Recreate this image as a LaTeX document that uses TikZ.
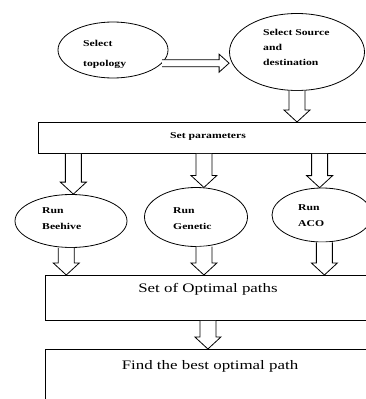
\documentclass[tikz,border=0pt]{standalone}
\usepackage{fontspec}
\usepackage{graphicx}
\setmainfont{Liberation Serif}
\usetikzlibrary{shapes.geometric,calc}
\newcommand\lbl[2]{\scalebox{1.3}[1]{\fontsize{9}{#1}\selectfont\bfseries\begin{tabular}{@{}l@{}}#2\end{tabular}}}
\newcommand\bigtxt[1]{\scalebox{1.3}[1]{\fontsize{13}{15}\selectfont #1}}
\tikzset{
  ell/.style={draw=black, line width=0.8pt, ellipse, inner sep=0pt},
  box/.style={draw=black, line width=0.8pt, rectangle, inner sep=0pt},
  harrow/.style={draw=black, line width=0.8pt, fill=white, line join=miter},
  txt/.style={inner sep=0pt}
}
\newcommand\bdown[2]{\draw[harrow] let \p1=(#1), \p2=(#2) in (\x1-8pt,\y1) -- (\x1-8pt,\y2+12pt) -- (\x1-13pt,\y2+12pt) -- (\x1,\y2) -- (\x1+13pt,\y2+12pt) -- (\x1+8pt,\y2+12pt) -- (\x1+8pt,\y1);}
\newcommand\bright[2]{\draw[harrow] let \p1=(#1), \p2=(#2) in (\x1,\y1+3.5pt) -- (\x2-10pt,\y1+3.5pt) -- (\x2-10pt,\y1+9pt) -- (\x2,\y1) -- (\x2-10pt,\y1-9pt) -- (\x2-10pt,\y1-3.5pt) -- (\x1,\y1-3.5pt);}
\begin{document}
\begin{tikzpicture}[x=1pt,y=-1pt]
\useasboundingbox (0,0) rectangle (366,399);
\clip (0,0) rectangle (366,399);
\fill[white] (0,0) rectangle (366,399);
% ellipses
\node[ell, minimum width=110pt, minimum height=56pt] (topo) at (113,50) {};
\node[ell, minimum width=135pt, minimum height=77pt] (src) at (297,52) {};
\node[ell, minimum width=112pt, minimum height=53pt] (bee) at (71,221) {};
\node[ell, minimum width=103pt, minimum height=59pt] (gen) at (196,217) {};
\node[ell, minimum width=100pt, minimum height=54pt] (aco) at (322,215) {};
% boxes
\node[box, minimum width=332pt, minimum height=31pt, anchor=north west] (par) at (38,122) {};
\node[box, minimum width=325pt, minimum height=45pt, anchor=north west] (opt) at (45,275) {};
\node[box, minimum width=325pt, minimum height=60pt, anchor=north west] (fin) at (45,349) {};
% labels
\node[txt, anchor=west] (ttopo) at (83,52) {\lbl{20}{Select\\topology}};
\node[txt, anchor=west] (tsrc) at (263,47) {\lbl{15}{Select Source\\and\\destination}};
\node[txt] (tpar) at (208,135) {\lbl{15}{Set parameters}};
\node[txt, anchor=west] (tbee) at (42,218.5) {\lbl{16}{Run\\Beehive}};
\node[txt, anchor=west] (tgen) at (173,218.5) {\lbl{16}{Run\\Genetic}};
\node[txt, anchor=west] (taco) at (298,215.5) {\lbl{16}{Run\\ACO}};
\node[txt] (topt) at (208,289) {\bigtxt{Set of Optimal paths}};
\node[txt] (tfin) at (210,366) {\bigtxt{Find the best optimal path}};
% arrows
\bright{topo.-15}{src.west}
\bdown{src.south}{par.north}
\bdown{bee.85 |- par.south}{bee.85}
\bdown{gen.75 |- par.south}{gen.75}
\bdown{aco.95 |- par.south}{aco.95}
\bdown{bee.-100}{opt.north}
\bdown{gen.-75}{opt.north}
\bdown{aco.-85}{opt.north}
\bdown{opt.south}{fin.north}
\end{tikzpicture}
\end{document}
